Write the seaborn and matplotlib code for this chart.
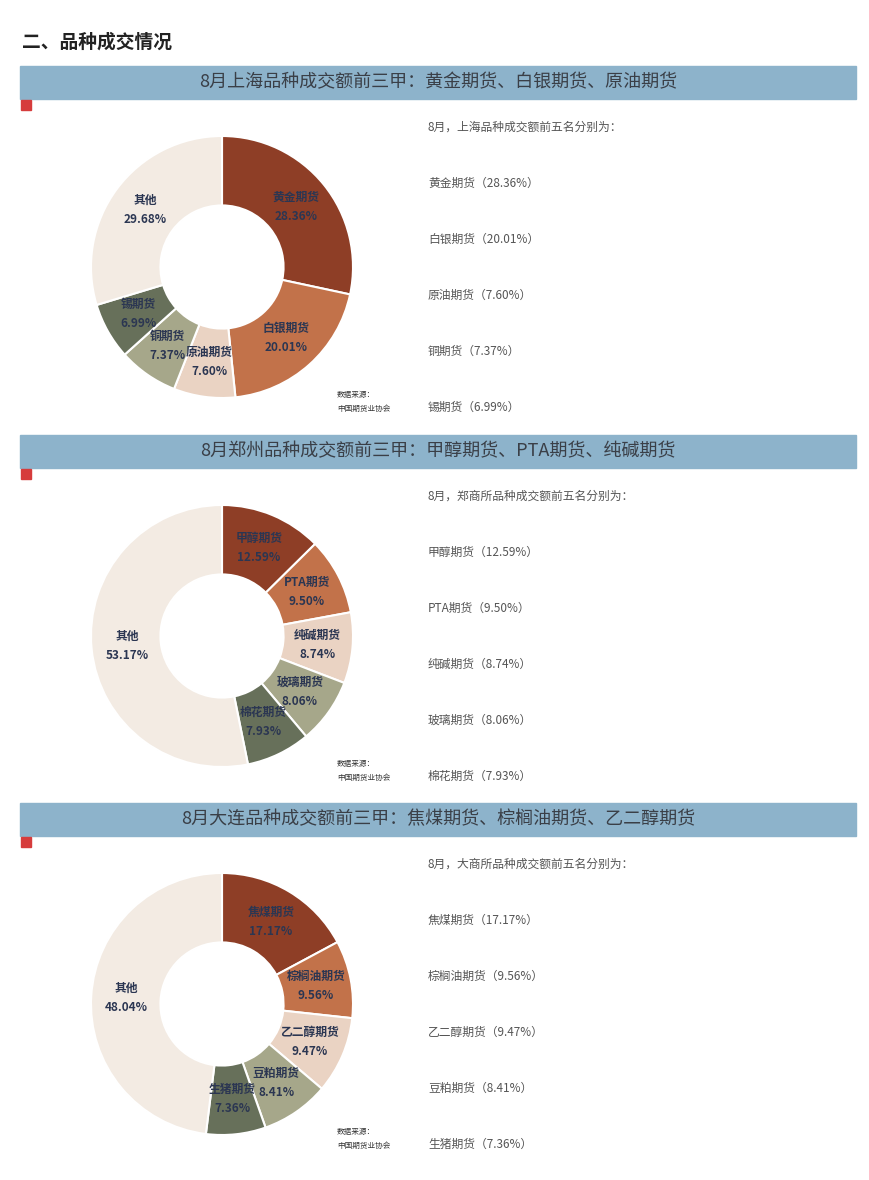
import matplotlib.pyplot as plt
import seaborn as sns
import numpy as np
from matplotlib.patches import Rectangle

sns.set_theme(style='white')
plt.rcParams['font.family'] = ['Noto Sans CJK SC', 'DejaVu Sans']

# data
sh_names = ['黄金期货', '白银期货', '原油期货', '铜期货', '锡期货', '其他']
sh_vals = [28.36, 20.01, 7.60, 7.37, 6.99, 29.68]
zz_names = ['甲醇期货', 'PTA期货', '纯碱期货', '玻璃期货', '棉花期货', '其他']
zz_vals = [12.59, 9.50, 8.74, 8.06, 7.93, 53.17]
dl_names = ['焦煤期货', '棕榈油期货', '乙二醇期货', '豆粕期货', '生猪期货', '其他']
dl_vals = [17.17, 9.56, 9.47, 8.41, 7.36, 48.04]

titles = ['8月上海品种成交额前三甲：黄金期货、白银期货、原油期货',
          '8月郑州品种成交额前三甲：甲醇期货、PTA期货、纯碱期货',
          '8月大连品种成交额前三甲：焦煤期货、棕榈油期货、乙二醇期货']
intros = ['8月，上海品种成交额前五名分别为：',
          '8月，郑商所品种成交额前五名分别为：',
          '8月，大商所品种成交额前五名分别为：']

colors = ['#8E3E26', '#C2724A', '#EAD3C3', '#A6A78A', '#67705A', '#F3EBE3']
W, H = 870, 1180

fig = plt.figure(figsize=(8.7, 11.8), dpi=100)
bg = fig.add_axes([0, 0, 1, 1])
bg.set_xlim(0, W)
bg.set_ylim(H, 0)
bg.axis('off')

bg.text(22, 42, '二、品种成交情况', fontsize=13.5, fontweight='bold',
        color='#222222', va='center')

blocks = [(sh_names, sh_vals, 66), (zz_names, zz_vals, 435), (dl_names, dl_vals, 803)]
for i, (names, vals, top) in enumerate(blocks):
    bg.add_patch(Rectangle((20, top), 836, 33, color='#8DB3CB'))
    bg.text(438, top + 16.5, titles[i], fontsize=13, color='#3a3f47',
            ha='center', va='center')
    bg.add_patch(Rectangle((21, top + 34), 10, 10, color='#D63C3C'))
    # right-hand list
    bg.text(428, top + 61, intros[i], fontsize=8.5, color='#555555', va='center')
    for k in range(5):
        bg.text(428, top + 117 + 56 * k, f'{names[k]}（{vals[k]:.2f}%）',
                fontsize=8.5, color='#555555', va='center')
    bg.text(337, top + 329, '数据来源：', fontsize=5.5, color='#333333', va='center')
    bg.text(337, top + 343, '中国期货业协会', fontsize=5.5, color='#333333', va='center')

    # donut
    cy = top + 201
    r = 131
    ax = fig.add_axes([(222 - r) / W, (H - cy - r) / H, 2 * r / W, 2 * r / H])
    wedges, _ = ax.pie(vals, colors=colors, startangle=90, counterclock=False,
                       radius=1, wedgeprops=dict(width=0.53, edgecolor='white', linewidth=1.5))
    ax.set_aspect('equal')
    ax.set_xlim(-1, 1)
    ax.set_ylim(-1, 1)
    for w, n, v in zip(wedges, names, vals):
        ang = np.deg2rad((w.theta1 + w.theta2) / 2)
        x, y = 0.73 * np.cos(ang), 0.73 * np.sin(ang)
        ax.text(x, y, f'{n}\n{v:.2f}%', ha='center', va='center',
                fontsize=8.5, fontweight='bold', color='#2B3652', linespacing=1.6)

fig.savefig('out.png', dpi=100, facecolor='white')
